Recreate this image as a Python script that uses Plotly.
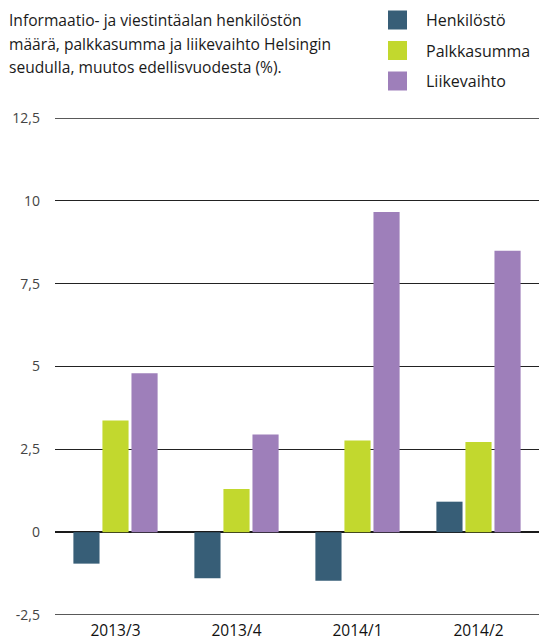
import plotly.graph_objects as go

categories = ["2013/3", "2013/4", "2014/1", "2014/2"]
henkilosto = [-0.95, -1.39, -1.47, 0.92]
palkkasumma = [3.37, 1.30, 2.77, 2.72]
liikevaihto = [4.80, 2.95, 9.66, 8.49]

series_names = ["Henkilöstö", "Palkkasumma", "Liikevaihto"]
colors = ["#375e77", "#c2d82e", "#9e7fba"]

y_tickvals = [-2.5, 0, 2.5, 5, 7.5, 10, 12.5]
y_ticktext = ["-2,5", "0", "2,5", "5", "7,5", "10", "12,5"]

title_lines = [
    "Informaatio- ja viestintäalan henkilöstön",
    "määrä, palkkasumma ja liikevaihto Helsingin",
    "seudulla, muutos edellisvuodesta (%).",
]

# page body has an 8px default margin; the figure is offset by it
OFF = 8
W, H = 554 - OFF, 640 - OFF
# target plot area in window pixels: x 55..539, y 118..615
L, T = 55 - OFF, 118 - OFF
R = W - (539 - OFF)
B = H - (615 - OFF)
pw, ph = W - L - R, H - T - B


def px(x):
    # window pixel -> paper x
    return (x - 55) / pw


def py(y):
    # window pixel -> paper y
    return (615 - y) / ph


fig = go.Figure()
for name, vals, col in zip(series_names, [henkilosto, palkkasumma, liikevaihto], colors):
    fig.add_trace(go.Bar(x=categories, y=vals, name=name, marker_color=col,
                         marker_line_width=0, showlegend=False))

font_family = "Open Sans, Lato, sans-serif"

annotations = []
for i, line in enumerate(title_lines):
    annotations.append(dict(text=line, xref="paper", yref="paper", x=px(7), y=py(20 + i * 23.5),
                            xanchor="left", yanchor="middle", showarrow=False,
                            font=dict(family=font_family, size=15.6, color="#1a1a1a")))

shapes = []
for i, (name, col) in enumerate(zip(series_names, colors)):
    cy = 20 + i * 30.5
    shapes.append(dict(type="rect", xref="paper", yref="paper", x0=px(388), x1=px(407),
                       y0=py(cy - 9.5), y1=py(cy + 9.5), fillcolor=col, line_width=0))
    annotations.append(dict(text=name, xref="paper", yref="paper", x=px(424), y=py(cy),
                            xanchor="left", yanchor="middle", showarrow=False,
                            font=dict(family=font_family, size=16, color="#1a1a1a")))

grid_color = "#222"
grid_width = 1.4

# gridlines at the range ends (plotly skips those on the plot edge)
for v in (y_tickvals[0], y_tickvals[-1]):
    shapes.append(dict(type="line", xref="paper", yref="y", x0=0, x1=1, y0=v, y1=v,
                       line=dict(color=grid_color, width=grid_width), layer="below"))

fig.update_layout(
    width=W, height=H,
    margin=dict(l=L, r=R, t=T, b=B, pad=0, autoexpand=False),
    paper_bgcolor="white", plot_bgcolor="white",
    barmode="group", bargap=0.28, bargroupgap=0.1,
    font=dict(family=font_family),
    annotations=annotations, shapes=shapes,
    xaxis=dict(type="category", showgrid=False, showline=False, zeroline=False,
               automargin=False,
               tickfont=dict(size=15.5, color="#111"), ticks="", ticklabelstandoff=4),
    yaxis=dict(range=[-2.5, 12.5], tickvals=y_tickvals, ticktext=y_ticktext,
               automargin=False,
               showgrid=True, gridcolor=grid_color, gridwidth=grid_width,
               zeroline=True, zerolinecolor="#1a1a1a", zerolinewidth=1.6,
               showline=False, ticks="", ticklabelstandoff=14,
               tickfont=dict(size=14, color="#444")),
)

fig.write_html("out.html")
